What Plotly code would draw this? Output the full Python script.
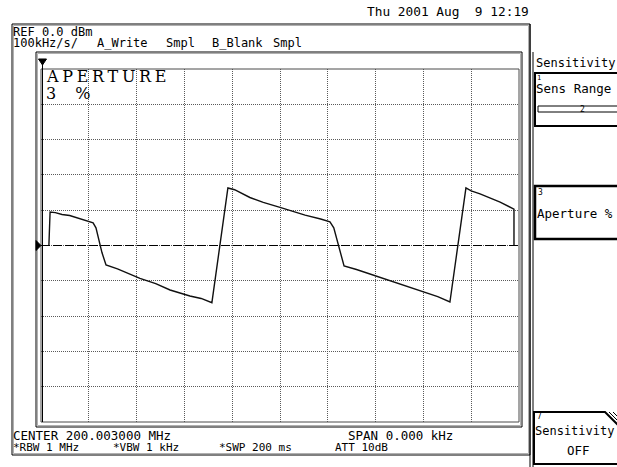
import plotly.graph_objects as go

# Zero-span sweep: time axis in ms (SWP 200 ms, 20 ms/div), level in divisions
sweep_ms = [3.3, 3.8, 6.0, 8.8, 12.0, 16.3, 19.5, 21.8, 23.0, 25.5, 27.2, 32.0,
            41.4, 48.0, 54.0, 62.3, 67.0, 71.5, 78.2, 81.0, 87.4, 93.0, 100.0,
            110.5, 117.0, 120.9, 122.5, 126.8, 132.0, 137.7, 150.2, 160.7, 166.0,
            171.1, 177.8, 180.0, 183.7, 192.1, 197.9, 197.9]
level_div = [0.0, 0.95, 0.93, 0.88, 0.85, 0.76, 0.70, 0.64, 0.50, -0.20, -0.55, -0.66,
             -0.93, -1.08, -1.26, -1.43, -1.50, -1.62, 1.63, 1.58, 1.36, 1.22, 1.08,
             0.86, 0.75, 0.67, 0.50, -0.58, -0.68, -0.81, -1.08, -1.32, -1.45,
             -1.60, 1.63, 1.55, 1.46, 1.23, 1.03, 0.0]

date_label = "Thu 2001 Aug\u00a0\u00a09 12:19"
ref_label = "REF 0.0 dBm"
mode_labels = ["100kHz/s/", "A_Write", "Smpl", "B_Blank", "Smpl"]
mode_x = [13, 97, 166, 212, 273]
center_label = "CENTER 200.003000 MHz"
span_label = "SPAN 0.000 kHz"
bw_labels = ["*RBW 1 MHz", "*VBW 1 kHz", "*SWP 200 ms", "ATT 10dB"]
bw_x = [13, 113, 219, 335]
function_title = ["APERTURE", "3 %"]
menu_title = "Sensitivity"

MONO = "DejaVu Sans Mono"
SERIF = "DejaVu Serif"

W, H = 617, 467
L, R, T, B = 41, 519, 69, 422


def px(x):
    return (x - L) / (R - L)


def py(y):
    return (B - y) / (B - T)


fig = go.Figure(go.Scatter(x=sweep_ms, y=level_div, mode="lines",
                           line=dict(color="#101010", width=1.4),
                           hoverinfo="skip"))

shapes = []


def rect(x0, y0, x1, y1, color="black", width=1, fill=None):
    shapes.append(dict(type="rect", xref="paper", yref="paper",
                       x0=px(x0), x1=px(x1), y0=py(y1), y1=py(y0),
                       line=dict(color=color, width=width),
                       fillcolor=fill if fill else "rgba(0,0,0,0)", layer="above"))


def line(x0, y0, x1, y1, color="black", width=1, dash="solid"):
    shapes.append(dict(type="line", xref="paper", yref="paper",
                       x0=px(x0), x1=px(x1), y0=py(y0), y1=py(y1),
                       line=dict(color=color, width=width, dash=dash), layer="above"))


def path(points, color="black", width=1, fill=None):
    d = "M " + " L ".join(f"{px(a):.5f},{py(b):.5f}" for a, b in points) + " Z"
    shapes.append(dict(type="path", xref="paper", yref="paper", path=d,
                       line=dict(color=color, width=width),
                       fillcolor=fill if fill else "rgba(0,0,0,0)", layer="above"))


# outer and inner frames (double lines)
rect(12, 24, 530, 455, "black", 1)
rect(13.5, 25.5, 528.5, 453.5, "#b0b0b0", 1)
rect(36, 52, 522, 427, "black", 1)
rect(37.5, 53.5, 520.5, 425.5, "#b0b0b0", 1)
rect(L, T, R, B, "#4a4a4a", 1)
line(L + 1.5, 63, L + 1.5, B, "black", 1)

# centre reference line
shapes.append(dict(type="line", xref="x", yref="y", x0=0, x1=200, y0=0, y1=0,
                   line=dict(color="black", width=1, dash="9px,3px")))

# reference markers
path([(36, 240.5), (36, 250.5), (41, 245.5)], "black", 1, "black")
path([(38.5, 59), (46.5, 59), (42.5, 65)], "black", 1, "black")

# soft-key panel
line(530, 24, 530, 467, "black", 1)
line(533, 52, 533, 467, "black", 1)
rect(535, 73, 630, 126, "black", 2)
rect(538, 106, 630, 112, "black", 1)
rect(535, 186, 630, 239, "black", 2.5)
path([(534, 412), (605, 412), (630, 437), (630, 464), (534, 464)], "black", 2)
line(609, 412, 617, 420, "black", 1)
line(613, 412, 617, 416, "black", 1)

annotations = []


def text(x, y, s, size=12.5, anchor="left", family=MONO, color="black"):
    annotations.append(dict(xref="paper", yref="paper", x=px(x), y=py(y), text=s,
                            showarrow=False, xanchor=anchor, yanchor="middle",
                            font=dict(family=family, size=size, color=color),
                            borderpad=0))


def spaced(s, spacing):
    return f'<span style="letter-spacing:{spacing}px">{s}</span>'


text(530, 12, date_label, 12.8, "right")
text(12, 32.5, ref_label, 12)
for s, x in zip(mode_labels, mode_x):
    text(x - 1, 43.5, s, 12)
text(12, 435, center_label, 12.5)
text(347, 435, span_label, 12.5)
for s, x in zip(bw_labels, bw_x):
    text(x - 1, 447, s, 11)

text(45, 77, spaced(function_title[0], 3.7), 16, family=SERIF)
text(45, 93.5, spaced(function_title[1], 7), 16, family=SERIF)

text(535, 63, menu_title, 12)
text(536, 77.5, "1", 7)
text(535, 88.5, "Sens Range", 12.5)
text(582, 109, "2", 8, "center")
text(537, 192, "3", 8)
text(536, 213, "Aperture %", 12.5)
text(536, 416.5, "7", 8)
text(534, 431, menu_title, 12)
text(578, 450, "OFF", 12.5, "center")

axis = dict(showgrid=True, gridcolor="#5a5a5a", griddash="1px,1px", gridwidth=1,
            showticklabels=False, ticks="", zeroline=False, showline=False)

fig.update_layout(
    width=W, height=H,
    margin=dict(l=L, r=W - R, t=T, b=H - B),
    paper_bgcolor="white", plot_bgcolor="white",
    showlegend=False,
    xaxis=dict(range=[0, 200], dtick=20, **axis),
    yaxis=dict(range=[-5, 5], dtick=1, **axis),
    shapes=shapes,
    annotations=annotations,
)

fig.write_html("out.html")
